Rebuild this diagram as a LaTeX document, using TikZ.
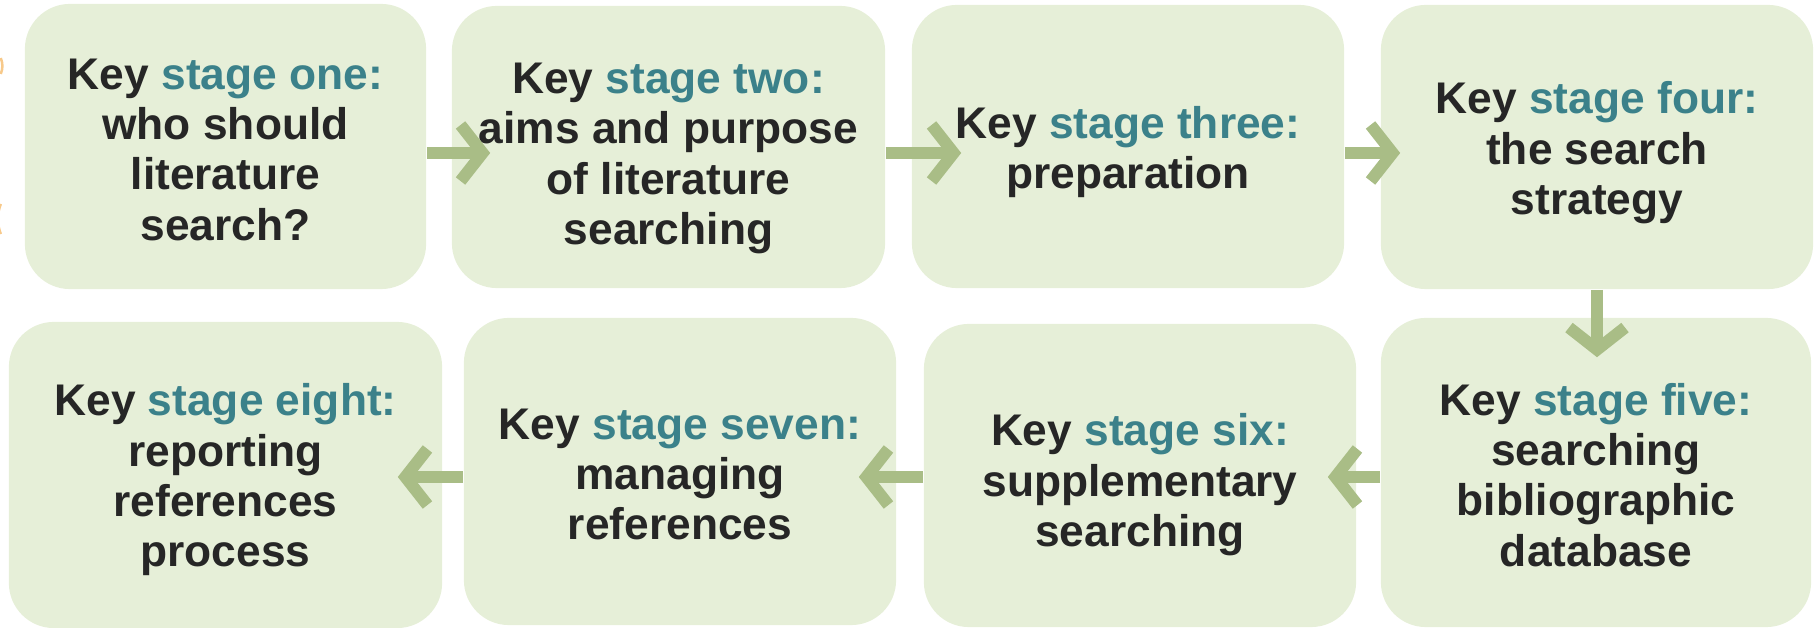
\documentclass[tikz,border=0pt]{standalone}
\usepackage{fontspec}
\setmainfont{Liberation Sans}
\usepackage{xcolor}
\usetikzlibrary{arrows.meta}
\definecolor{boxfill}{HTML}{E6EFD8}
\definecolor{stagecol}{HTML}{3B818A}
\definecolor{keytext}{HTML}{262626}
\definecolor{arrowcol}{HTML}{A9BD86}
\definecolor{edgemark}{HTML}{F7C98A}
% first line of a box; the strut sets how far the text sits down
\newcommand{\keyline}[2][10pt]{\rule{0pt}{#1}Key \textcolor{stagecol}{#2}}

\begin{document}
\begin{tikzpicture}[
  x=0.01cm, y=-0.01cm,
  stagebox/.style={fill=boxfill, rounded corners=0.45cm, align=center,
                   text=keytext, inner sep=0pt,
                   font=\fontsize{12.6}{14.3}\selectfont\bfseries},
  flowarrow/.style={draw=arrowcol, line width=0.12cm,
                    -{Straight Barb[length=0.22cm, width=0.56cm, line join=miter, line cap=butt]}},
]
\useasboundingbox (0,0) rectangle (1820,628);

% top row
\node[stagebox, minimum width=4.01cm, minimum height=2.85cm] (b1) at (225.5,146.5)
  {\keyline[10.5pt]{stage one:}\\who should\\literature\\search?};
\node[stagebox, minimum width=4.33cm, minimum height=2.82cm] (b2) at (668.5,147)
  {\keyline[15.2pt]{stage two:}\\aims and purpose\\of literature\\searching};
\node[stagebox, minimum width=4.32cm, minimum height=2.83cm] (b3) at (1128,146.5)
  {\keyline[12.4pt]{stage three:}\\preparation};
\node[stagebox, minimum width=4.32cm, minimum height=2.84cm] (b4) at (1597,147)
  {\keyline[12.5pt]{stage four:}\\the search\\strategy};

% bottom row
\node[stagebox, minimum width=4.30cm, minimum height=3.09cm] (b5) at (1596,472.5)
  {\keyline[10.5pt]{stage five:}\\searching\\bibliographic\\database};
\node[stagebox, minimum width=4.32cm, minimum height=3.03cm] (b6) at (1140,475.5)
  {\keyline[14.4pt]{stage six:}\\supplementary\\searching};
\node[stagebox, minimum width=4.32cm, minimum height=3.07cm] (b7) at (680,471.5)
  {\keyline[10.4pt]{stage seven:}\\managing\\references};
\node[stagebox, minimum width=4.33cm, minimum height=3.06cm] (b8) at (225.5,475)
  {\keyline[11.8pt]{stage eight:}\\reporting\\references\\process};

\coordinate (row1) at (0,153);
\coordinate (row2) at (0,477);

% arrows
\draw[flowarrow, shorten >=-0.39cm] (b1.east |- row1) -- (b2.west |- row1);
\draw[flowarrow, shorten >=-0.50cm] (b2.east |- row1) -- (b3.west |- row1);
\draw[flowarrow, shorten >=-0.20cm] (b3.east |- row1) -- (b4.west |- row1);
\draw[flowarrow, shorten >=-0.40cm] (b4.south) -- (b4.south |- b5.north);
\draw[flowarrow, shorten >=-0.29cm] (b5.west |- row2) -- (b6.east |- row2);
\draw[flowarrow, shorten >=-0.38cm] (b6.west |- row2) -- (b7.east |- row2);
\draw[flowarrow, shorten >=-0.45cm] (b7.west |- row2) -- (b8.east |- row2);

% cut-off marks at the left edge
\draw[draw=edgemark, line width=0.025cm] (0.8,58) to[bend left=20] (0.8,74);
\draw[draw=edgemark, line width=0.025cm] (0.8,204) to[bend right=20] (0.8,234);
\end{tikzpicture}
\end{document}
